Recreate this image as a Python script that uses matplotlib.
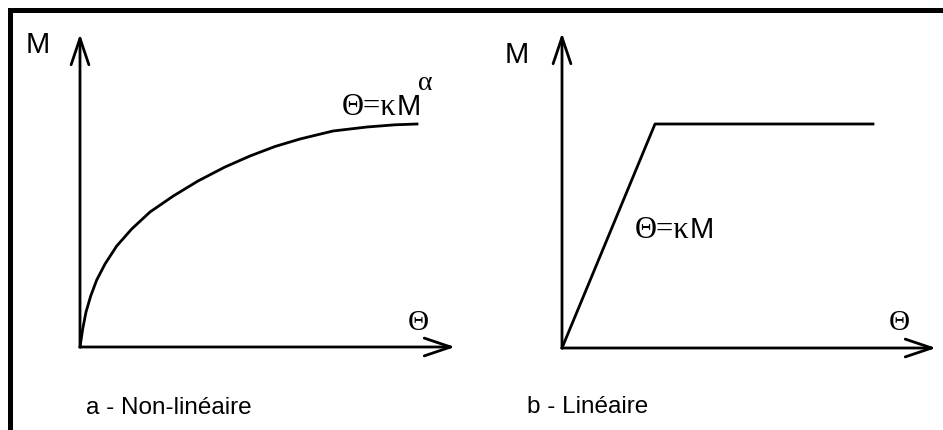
import matplotlib
matplotlib.use("Agg")
import matplotlib.pyplot as plt
from matplotlib.lines import Line2D

# left panel: non-linear curve (theta, M)
theta_nl = [0, 0.027, 0.06, 0.107, 0.167, 0.25, 0.367, 0.517, 0.70, 0.933,
            1.18, 1.45, 1.70, 1.95, 2.20, 2.53, 2.87, 3.15, 3.37]
m_nl = [0, 0.18, 0.35, 0.51, 0.67, 0.83, 1.01, 1.18, 1.35, 1.51,
        1.66, 1.80, 1.91, 2.005, 2.08, 2.16, 2.20, 2.222, 2.23]

# right panel: linear then plateau
theta_lin = [0, 0.93, 3.11]
m_lin = [0, 2.24, 2.24]

captions = ["a - Non-linéaire", "b - Linéaire"]

SANS = "Liberation Sans"
SERIF = "Liberation Serif"


def draw_axes_arrows(ax, x_tip, y_tip):
    style = "->,head_length=0.95,head_width=0.32"
    kw = dict(arrowstyle=style, lw=2.0, color="black", mutation_scale=20,
              shrinkA=0, shrinkB=0)
    ax.annotate("", xy=(x_tip, 0), xytext=(0, 0), arrowprops=kw)
    ax.annotate("", xy=(0, y_tip), xytext=(0, 0), arrowprops=kw)


def formula(ax, x, y):
    ax.text(x - 0.01, y, "Θ=κ", family=SERIF, fontsize=22, ha="right", va="baseline")
    ax.text(x, y, "M", family=SANS, fontsize=21, ha="left", va="baseline")


def main():
    fig = plt.figure(figsize=(9.43, 4.31), dpi=100)

    ax1 = fig.add_axes([0, 0, 0.5, 1])
    ax1.set_xlim(-0.80, 3.915)
    ax1.set_ylim(-0.83, 3.48)
    ax1.axis("off")

    ax2 = fig.add_axes([0.5, 0, 0.5, 1])
    ax2.set_xlim(-0.905, 3.81)
    ax2.set_ylim(-0.82, 3.49)
    ax2.axis("off")

    # (a) non-linear
    draw_axes_arrows(ax1, 3.75, 3.13)
    ax1.plot(theta_nl, m_nl, color="black", lw=2.0, solid_joinstyle="round")
    ax1.text(-0.425, 2.95, "M", family=SANS, fontsize=21, ha="center", va="baseline")
    ax1.text(3.38, 0.18, "Θ", family=SERIF, fontsize=21, ha="center", va="baseline")
    formula(ax1, 3.17, 2.33)
    ax1.text(3.38, 2.58, "α", family=SERIF, fontsize=20, ha="left", va="baseline")
    ax1.text(0.06, -0.66, captions[0], family=SANS, fontsize=17.5, ha="left", va="baseline")

    # (b) linear
    draw_axes_arrows(ax2, 3.74, 3.15)
    ax2.plot(theta_lin, m_lin, color="black", lw=2.0)
    ax2.text(-0.45, 2.86, "M", family=SANS, fontsize=21, ha="center", va="baseline")
    ax2.text(3.37, 0.19, "Θ", family=SERIF, fontsize=21, ha="center", va="baseline")
    formula(ax2, 1.28, 1.11)
    ax2.text(-0.35, -0.64, captions[1], family=SANS, fontsize=17.5, ha="left", va="baseline")

    # frame (top and left only)
    top = 1 - 10.5 / 431
    left = 10 / 943
    fig.add_artist(Line2D([left, 1], [top, top], transform=fig.transFigure,
                          color="black", lw=3.6, solid_capstyle="projecting"))
    fig.add_artist(Line2D([left, left], [0, top], transform=fig.transFigure,
                          color="black", lw=3.6, solid_capstyle="projecting"))

    fig.savefig("out.png", dpi=100, facecolor="white")


if __name__ == "__main__":
    main()
